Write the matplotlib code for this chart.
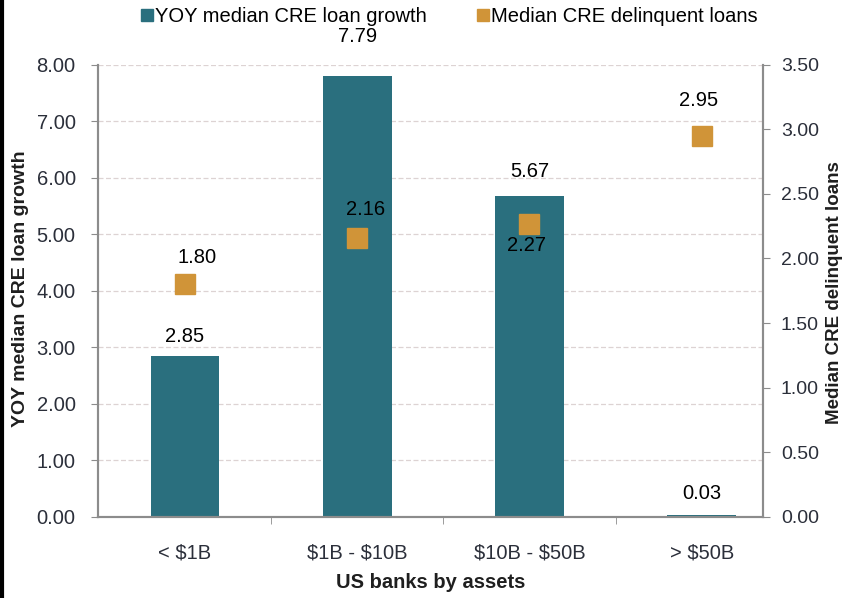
import numpy as np
import matplotlib.pyplot as plt
from matplotlib.lines import Line2D

plt.rcParams['font.family'] = ['Liberation Sans', 'DejaVu Sans']
plt.rcParams['text.parse_math'] = False

categories = ['< $1B', '$1B - $10B', '$10B - $50B', '> $50B']
loan_growth = [2.85, 7.79, 5.67, 0.03]
delinquent = [1.80, 2.16, 2.27, 2.95]

bar_color = '#2a6f7e'
dot_color = '#d09438'
text_color = '#2b2f3a'

fig = plt.figure(figsize=(8.46, 5.98), dpi=100)
ax = fig.add_axes([0.1158, 0.1355, 0.786, 0.7566])
ax2 = ax.twinx()

x = np.arange(len(categories))
ax.bar(x, loan_growth, width=0.4, color=bar_color, zorder=2)
ax2.plot(x, delinquent, 's', color=dot_color, markersize=14, zorder=3)

ax.set_ylim(0, 8)
ax2.set_ylim(0, 3.5)
ax.set_yticks(np.arange(0, 8.01, 1))
ax2.set_yticks(np.arange(0, 3.51, 0.5))
ax.set_yticklabels([f'{v:.2f}' for v in np.arange(0, 8.01, 1)])
ax2.set_yticklabels([f'{v:.2f}' for v in np.arange(0, 3.51, 0.5)])

# dashed gridlines from left axis
for v in np.arange(1, 8.01, 1):
    ax.axhline(v, color='#ddd3d3', lw=0.9, ls=(0, (4, 2)), zorder=1)

ax.set_xticks(x)
ax.set_xticklabels(categories)
ax.set_xticks([0.5, 1.5, 2.5], minor=True)
ax.set_xlim(-0.505, 3.355)
ax.tick_params(axis='x', which='major', length=0, pad=19, labelsize=14.5, colors=text_color)
ax.tick_params(axis='x', which='minor', length=5, color='#8c8c8c')
ax.tick_params(axis='y', length=5, color='#8c8c8c', labelsize=14.5, labelcolor=text_color, pad=11)
ax2.tick_params(axis='y', length=5, color='#8c8c8c', labelsize=14, labelcolor=text_color, pad=8)

for a in (ax, ax2):
    a.spines['top'].set_visible(False)
    for s in ('left', 'right', 'bottom'):
        a.spines[s].set_color('#8c8c8c')
        a.spines[s].set_linewidth(1.5)

ax.set_xlabel('US banks by assets', fontsize=14.5, fontweight='bold', labelpad=8, color='#1f1f1f')
ax.set_ylabel('YOY median CRE loan growth', fontsize=14, fontweight='bold', color='#1f1f1f')
ax2.set_ylabel('Median CRE delinquent loans', fontsize=13.5, fontweight='bold', color='#1f1f1f')
ax.yaxis.set_label_coords(-0.117, 0.505)
ax2.yaxis.set_label_coords(1.107, 0.497)
ax.yaxis.label.set_va('center')
ax2.yaxis.label.set_va('center')

# value labels (offsets in points)
bar_offsets = [14, 29, 18, 16]
for xi, v, off in zip(x, loan_growth, bar_offsets):
    ax.annotate(f'{v:.2f}', (xi, v), xytext=(0, off), textcoords='offset points',
                ha='center', va='center', fontsize=14.5, color='black')

dot_offsets = [(9, 19), (6, 20), (-2, -16), (-2, 25)]
for xi, v, (dx, dy) in zip(x, delinquent, dot_offsets):
    ax2.annotate(f'{v:.2f}', (xi, v), xytext=(dx, dy), textcoords='offset points',
                 ha='center', va='center', fontsize=14.5, color='black')

handles = [Line2D([], [], marker='s', ls='', color=bar_color, markersize=9),
           Line2D([], [], marker='s', ls='', color=dot_color, markersize=9)]
fig.legend(handles, ['YOY median CRE loan growth', 'Median CRE delinquent loans'],
           loc='center', bbox_to_anchor=(0.53, 0.972), ncol=2, frameon=False,
           fontsize=14.5, handletextpad=0.0, columnspacing=2.4, handlelength=0.8)

fig.add_artist(Line2D([0.002, 0.002], [0, 1], color='black', lw=3, transform=fig.transFigure))

fig.savefig('out.png', dpi=100)
